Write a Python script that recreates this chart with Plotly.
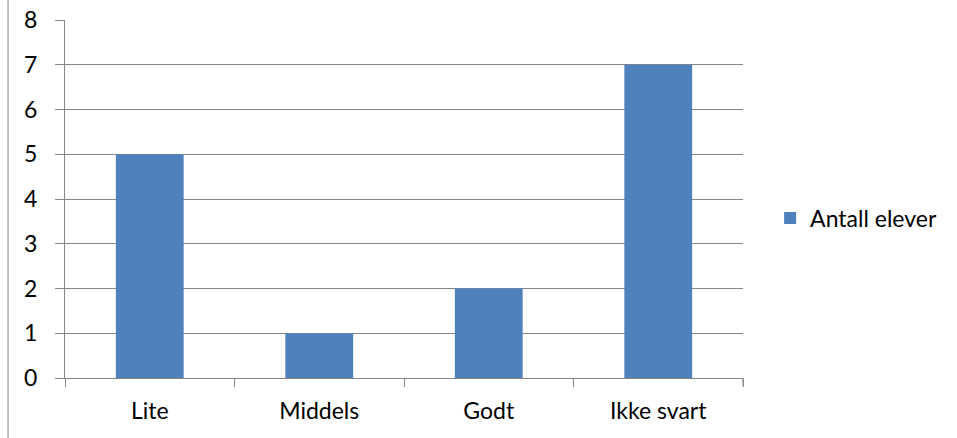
import plotly.graph_objects as go

categories = ["Lite", "Middels", "Godt", "Ikke svart"]
values = [5, 1, 2, 7]
series_name = "Antall elever"

grid = "#868686"
font = "Lato, 'Open Sans', sans-serif"
fs = 23

fig = go.Figure()
fig.add_trace(go.Bar(
    x=categories, y=values, name=series_name,
    marker=dict(color="#4F81BD", line=dict(color="#4F81BD", width=0)),
    showlegend=True,
))

fig.update_layout(
    width=957, height=438,
    margin=dict(l=65, r=214, t=20, b=60, autoexpand=False),
    paper_bgcolor="white", plot_bgcolor="white",
    bargap=0.6,
    font=dict(family=font, size=fs, color="#000000"),
    showlegend=True,
    legend=dict(x=1.04, y=0.447, xanchor="left", yanchor="middle",
                font=dict(family=font, size=fs), itemwidth=30,
                bgcolor="rgba(0,0,0,0)"),
    xaxis=dict(
        type="category", showline=True, linecolor=grid, linewidth=1,
        ticks="outside", ticklen=8, tickcolor=grid, tickwidth=1,
        tickson="boundaries", showgrid=False, automargin=False,
        tickfont=dict(family=font, size=fs),
        ticklabelstandoff=12,
    ),
    yaxis=dict(
        range=[0, 8.002], tickvals=[0, 1, 2, 3, 4, 5, 6, 7, 8],
        showline=True, linecolor=grid, linewidth=1,
        ticks="outside", ticklen=9, tickcolor=grid, tickwidth=1,
        showgrid=True, gridcolor=grid, gridwidth=1, zeroline=False,
        automargin=False,
        tickfont=dict(family=font, size=fs),
        ticklabelstandoff=13,
    ),
    shapes=[
        dict(type="line", xref="paper", yref="paper",
             x0=-0.084, x1=-0.084, y0=-0.2, y1=1.1,
             line=dict(color=grid, width=1)),
        dict(type="line", xref="paper", yref="paper",
             x0=1, x1=1, y0=0, y1=-8/358,
             line=dict(color=grid, width=1)),
    ],
)

fig.write_html("out.html")
